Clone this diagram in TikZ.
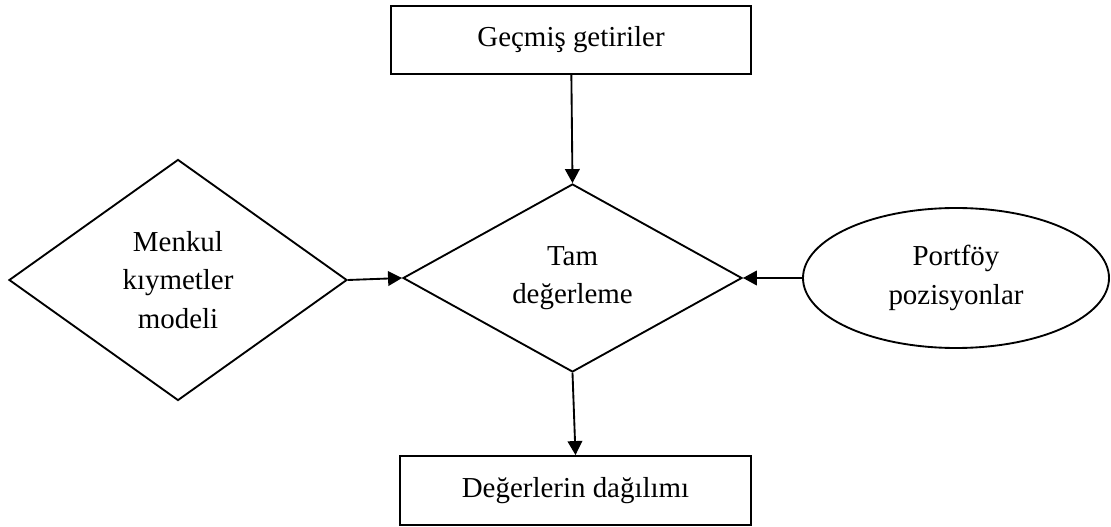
\documentclass[tikz,border=0pt]{standalone}
\usepackage{fontspec}
\setmainfont{Liberation Serif}
\usetikzlibrary{shapes.geometric,arrows.meta,positioning}

\begin{document}
\begin{tikzpicture}[x=0.75pt,y=-0.75pt,line width=1.4pt,
    font=\fontsize{21.7pt}{29pt}\selectfont,
    kutu/.style={draw, align=center, inner sep=0pt},
    karar/.style={draw, diamond, align=center, inner sep=0pt},
    ok/.style={-{Triangle[length=10.5pt,width=11pt]}}]
    \useasboundingbox (0,0) rectangle (1111,527);

    % Kutular
    \node[kutu, minimum width=270pt, minimum height=51pt] (gecmis) at (571,40) {Geçmiş getiriler};
    \node[karar, aspect=1.8, minimum width=254.25pt, minimum height=141pt] (tam) at (572.5,278) {Tam\\ değerleme};
    \node[karar, aspect=1.4, minimum width=253.5pt, minimum height=180.75pt] (menkul) at (178,280) {Menkul\\ kıymetler\\ modeli};
    \node[draw, ellipse, align=center, inner sep=0pt, minimum width=229.5pt, minimum height=105pt] (portfoy) at (956,278) {Portföy\\ pozisyonlar};
    \node[kutu, minimum width=263.25pt, minimum height=51.75pt] (dagilim) at (575.5,490.5) {Değerlerin dağılımı};

    % Oklar
    \draw[ok] (gecmis) -- (tam.north);
    \draw[ok] (menkul.east) -- (tam.west);
    \draw[ok] (portfoy.west) -- (tam.east);
    \draw[ok] (tam.south) -- (dagilim.north);
\end{tikzpicture}
\end{document}
